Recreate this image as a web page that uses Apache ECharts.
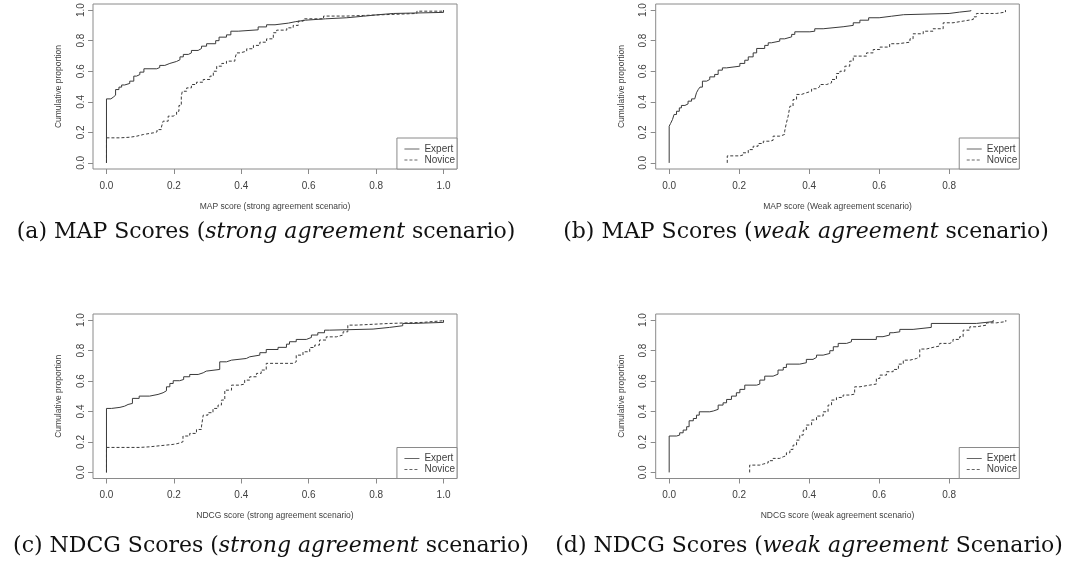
<!DOCTYPE html>
<html>
<head>
<meta charset="utf-8">
<script src="https://cdn.jsdelivr.net/npm/echarts@6/dist/echarts.min.js"></script>
<style>
html,body{margin:0;padding:0;background:#fff;}
#c{width:1086px;height:578px;}
</style>
</head>
<body>
<div id="c"></div>
<script>
// ---- data ----
// (a) MAP, strong agreement
var mapStrongExpertX = [0,0.013,0.02,0.027,0.037,0.045,0.054,0.069,0.081,0.089,0.099,0.111,0.149,0.158,0.173,0.188,0.208,0.218,0.228,0.243,0.252,0.272,0.282,0.297,0.324,0.334,0.356,0.369,0.391,0.45,0.475,0.5,0.54,0.56,0.59,0.65,0.713,0.762,0.802,0.851,1.0];
var mapStrongExpertY = [0.419,0.43,0.443,0.48,0.496,0.51,0.52,0.535,0.568,0.578,0.594,0.616,0.624,0.638,0.651,0.664,0.675,0.694,0.71,0.72,0.736,0.749,0.764,0.78,0.80,0.823,0.838,0.862,0.871,0.89,0.904,0.915,0.924,0.934,0.943,0.95,0.96,0.969,0.978,0.985,1.0];
var mapStrongNoviceX = [0,0.04,0.07,0.09,0.11,0.14,0.15,0.163,0.168,0.183,0.198,0.208,0.215,0.222,0.225,0.238,0.252,0.267,0.287,0.307,0.317,0.327,0.342,0.356,0.381,0.386,0.396,0.416,0.436,0.455,0.475,0.495,0.505,0.535,0.554,0.569,0.584,0.644,0.713,0.762,0.921,1.0];
var mapStrongNoviceY = [0.164,0.168,0.175,0.186,0.197,0.203,0.218,0.234,0.273,0.306,0.317,0.338,0.376,0.437,0.469,0.491,0.513,0.528,0.546,0.568,0.60,0.633,0.651,0.666,0.681,0.72,0.731,0.747,0.769,0.79,0.812,0.852,0.869,0.884,0.90,0.928,0.943,0.961,0.965,0.978,0.993,1.0];
// (b) MAP, weak agreement
var mapWeakExpertX = [0,0.004,0.0095,0.014,0.021,0.029,0.035,0.045,0.054,0.064,0.073,0.078,0.083,0.088,0.095,0.107,0.116,0.13,0.14,0.152,0.164,0.202,0.216,0.226,0.24,0.25,0.273,0.283,0.292,0.316,0.33,0.35,0.359,0.402,0.416,0.44,0.497,0.526,0.545,0.57,0.6,0.635,0.67,0.80,0.83,0.862];
var mapWeakExpertY = [0.24,0.258,0.284,0.317,0.338,0.36,0.376,0.386,0.404,0.419,0.432,0.459,0.48,0.496,0.535,0.546,0.563,0.579,0.607,0.622,0.633,0.651,0.672,0.694,0.72,0.749,0.769,0.786,0.797,0.812,0.825,0.841,0.858,0.862,0.878,0.891,0.90,0.917,0.934,0.95,0.96,0.97,0.978,0.987,0.995,1.0];
var mapWeakNoviceX = [0.166,0.202,0.211,0.226,0.24,0.254,0.269,0.288,0.297,0.316,0.33,0.335,0.34,0.345,0.354,0.364,0.378,0.392,0.407,0.421,0.43,0.45,0.464,0.478,0.488,0.502,0.516,0.526,0.564,0.583,0.602,0.63,0.654,0.688,0.697,0.726,0.754,0.783,0.811,0.84,0.869,0.878,0.935,0.961];
var mapWeakNoviceY = [0.046,0.052,0.066,0.087,0.109,0.127,0.142,0.148,0.175,0.186,0.207,0.262,0.306,0.371,0.415,0.448,0.459,0.469,0.485,0.498,0.513,0.524,0.546,0.585,0.60,0.633,0.666,0.699,0.72,0.742,0.758,0.78,0.79,0.812,0.845,0.862,0.878,0.917,0.928,0.939,0.956,0.978,0.987,1.0];
// (c) NDCG, strong agreement
var ndcgStrongExpertX = [0,0.015,0.04,0.054,0.064,0.077,0.097,0.128,0.153,0.168,0.178,0.188,0.198,0.217,0.229,0.247,0.272,0.287,0.296,0.336,0.356,0.371,0.415,0.425,0.455,0.474,0.509,0.534,0.543,0.563,0.593,0.608,0.627,0.647,0.662,0.791,0.84,0.879,0.909,1.0];
var ndcgStrongExpertY = [0.42,0.427,0.435,0.446,0.453,0.486,0.501,0.512,0.523,0.536,0.562,0.584,0.602,0.61,0.628,0.643,0.654,0.665,0.676,0.726,0.737,0.748,0.759,0.77,0.786,0.807,0.821,0.842,0.858,0.873,0.886,0.902,0.917,0.934,0.941,0.952,0.963,0.978,0.985,1.0];
var ndcgStrongNoviceX = [0,0.099,0.128,0.158,0.198,0.212,0.227,0.247,0.267,0.282,0.287,0.301,0.316,0.331,0.341,0.351,0.371,0.395,0.41,0.425,0.445,0.459,0.474,0.553,0.563,0.583,0.603,0.618,0.632,0.652,0.682,0.702,0.716,0.741,0.84,0.939,1.0];
var ndcgStrongNoviceY = [0.164,0.168,0.175,0.184,0.19,0.201,0.239,0.256,0.282,0.304,0.376,0.392,0.42,0.442,0.475,0.54,0.573,0.58,0.606,0.628,0.65,0.672,0.716,0.726,0.77,0.792,0.82,0.836,0.869,0.89,0.902,0.923,0.967,0.978,0.985,0.996,1.0];
// (d) NDCG, weak agreement
var ndcgWeakExpertX = [0,0.021,0.03,0.04,0.05,0.057,0.069,0.078,0.086,0.116,0.126,0.14,0.154,0.164,0.178,0.192,0.202,0.216,0.25,0.259,0.273,0.297,0.311,0.326,0.335,0.373,0.392,0.411,0.421,0.44,0.459,0.469,0.483,0.507,0.521,0.592,0.611,0.63,0.64,0.659,0.697,0.749,0.878,0.926];
var ndcgWeakExpertY = [0.239,0.245,0.26,0.278,0.3,0.339,0.354,0.376,0.398,0.403,0.414,0.442,0.457,0.479,0.501,0.523,0.545,0.573,0.58,0.606,0.632,0.645,0.672,0.689,0.711,0.72,0.742,0.755,0.77,0.781,0.799,0.825,0.847,0.858,0.873,0.891,0.902,0.917,0.923,0.939,0.952,0.978,0.99,1.0];
var ndcgWeakNoviceX = [0.23,0.259,0.269,0.283,0.297,0.316,0.326,0.335,0.345,0.354,0.364,0.373,0.383,0.392,0.407,0.421,0.44,0.454,0.464,0.478,0.497,0.516,0.53,0.545,0.573,0.592,0.602,0.621,0.64,0.655,0.669,0.688,0.707,0.716,0.735,0.754,0.773,0.802,0.811,0.83,0.84,0.859,0.878,0.907,0.935,0.962];
var ndcgWeakNoviceY = [0.048,0.055,0.063,0.077,0.092,0.103,0.109,0.129,0.151,0.179,0.212,0.245,0.278,0.311,0.344,0.37,0.398,0.442,0.475,0.492,0.508,0.514,0.562,0.573,0.58,0.617,0.639,0.661,0.676,0.711,0.737,0.748,0.759,0.81,0.821,0.83,0.847,0.858,0.873,0.891,0.934,0.956,0.967,0.982,0.99,1.0];

var seriesNames = ['Expert', 'Novice'];
var xTicksFull = [0, 0.2, 0.4, 0.6, 0.8, 1.0];
var xTicksShort = [0, 0.2, 0.4, 0.6, 0.8];
var yTicks = [0, 0.2, 0.4, 0.6, 0.8, 1.0];
var xTitles = ['MAP score (strong agreement scenario)', 'MAP score (Weak agreement scenario)',
               'NDCG score (strong agreement scenario)', 'NDCG score (weak agreement scenario)'];
var yTitle = 'Cumulative proportion';
var captions = [
  ['(a) MAP Scores (', 'strong agreement', ' scenario)'],
  ['(b) MAP Scores (', 'weak agreement', ' scenario)'],
  ['(c) NDCG Scores (', 'strong agreement', ' scenario)'],
  ['(d) NDCG Scores (', 'weak agreement', ' Scenario)']
];

// ---- build ----
function ecdf(xs, ys) {
  var d = [[xs[0], 0]];
  for (var i = 0; i < xs.length; i++) d.push([xs[i], ys[i]]);
  return d;
}
var panels = [
  {e: ecdf(mapStrongExpertX, mapStrongExpertY), n: ecdf(mapStrongNoviceX, mapStrongNoviceY)},
  {e: ecdf(mapWeakExpertX, mapWeakExpertY), n: ecdf(mapWeakNoviceX, mapWeakNoviceY)},
  {e: ecdf(ndcgStrongExpertX, ndcgStrongExpertY), n: ecdf(ndcgStrongNoviceX, ndcgStrongNoviceY)},
  {e: ecdf(ndcgWeakExpertX, ndcgWeakExpertY), n: ecdf(ndcgWeakNoviceX, ndcgWeakNoviceY)}
];

var FONT = 'Liberation Sans, Arial, sans-serif';
var BOX = '#8a8a8a';
var TXT = '#404040';
var LINE = '#3a3a3a';

var grids = [
  {left: 93, top: 4, width: 364, height: 165},
  {left: 655.7, top: 4, width: 363.6, height: 165},
  {left: 93, top: 314, width: 364, height: 164.5},
  {left: 655.7, top: 314, width: 363.6, height: 164.5}
];
var capPos = [[266, 232], [806, 232], [271, 546], [809, 546]];

var option = {
  animation: false,
  backgroundColor: '#fff',
  grid: grids.map(function (g) {
    return {left: g.left, top: g.top, width: g.width, height: g.height,
            show: true, borderColor: BOX, borderWidth: 1, backgroundColor: 'transparent'};
  }),
  xAxis: [0, 1, 2, 3].map(function (i) {
    var full = (i % 2 === 0);
    var ticks = full ? xTicksFull : xTicksShort;
    return {
      type: 'value', gridIndex: i, position: 'bottom',
      min: full ? -0.04 : -0.0385, max: full ? 1.04 : 1.0005,
      splitLine: {show: false},
      axisLine: {show: false, onZero: false},
      axisTick: {show: true, length: 5, customValues: ticks, lineStyle: {color: BOX}},
      axisLabel: {customValues: ticks, margin: 12, color: TXT, fontSize: 10, fontFamily: FONT,
                  formatter: function (v) { return v.toFixed(1); }},
      name: xTitles[i], nameLocation: 'middle', nameGap: 33,
      nameTextStyle: {color: TXT, fontSize: 8.5, fontFamily: FONT}
    };
  }),
  yAxis: [0, 1, 2, 3].map(function (i) {
    return {
      type: 'value', gridIndex: i, position: 'left', min: -0.04, max: 1.04,
      splitLine: {show: false},
      axisLine: {show: false, onZero: false},
      axisTick: {show: true, length: 5, customValues: yTicks, lineStyle: {color: BOX}},
      axisLabel: {customValues: yTicks, rotate: 90, margin: 7, color: TXT, fontSize: 10, fontFamily: FONT,
                  formatter: function (v) { return v.toFixed(1); }},
      name: yTitle, nameLocation: 'middle', nameGap: 30, nameRotate: 90,
      nameTextStyle: {color: TXT, fontSize: 8.5, fontFamily: FONT}
    };
  }),
  legend: [0, 1, 2, 3].map(function (i) {
    var g = grids[i];
    return {
      data: seriesNames, orient: 'vertical',
      right: 1086 - (g.left + g.width), bottom: 578 - (g.top + g.height),
      padding: [6, 2, 4, 7], itemGap: 1, itemWidth: 15, itemHeight: 10,
      borderColor: BOX, borderWidth: 1, backgroundColor: '#fff',
      selectedMode: false,
      itemStyle: {opacity: 0},
      lineStyle: {width: 1, color: '#666'},
      textStyle: {color: TXT, fontSize: 10, fontFamily: FONT, padding: [0, 0, 0, 0]}
    };
  }),
  series: [],
  graphic: captions.map(function (c, i) {
    return {
      type: 'text', x: capPos[i][0], y: capPos[i][1],
      style: {
        text: '{n|' + c[0] + '}{i|' + c[1] + '}{n|' + c[2] + '}',
        align: 'center', verticalAlign: 'middle',
        rich: {
          n: {fontFamily: 'DejaVu Serif, serif', fontSize: 22, fill: '#111'},
          i: {fontFamily: 'DejaVu Serif, serif', fontSize: 22, fontStyle: 'italic', fill: '#111'}
        }
      }
    };
  })
};

panels.forEach(function (p, i) {
  option.series.push({
    name: 'Expert', type: 'line', step: 'end', xAxisIndex: i, yAxisIndex: i,
    data: p.e, symbol: 'none', showSymbol: false, lineStyle: {color: LINE, width: 1, type: 'solid'},
    itemStyle: {color: LINE}, silent: true
  });
  option.series.push({
    name: 'Novice', type: 'line', step: 'end', xAxisIndex: i, yAxisIndex: i,
    data: p.n, symbol: 'none', showSymbol: false, lineStyle: {color: LINE, width: 1, type: [3, 2]},
    itemStyle: {color: LINE}, silent: true
  });
});

var chart = echarts.init(document.getElementById('c'), null, {renderer: 'canvas'});
chart.setOption(option);
</script>
</body>
</html>
